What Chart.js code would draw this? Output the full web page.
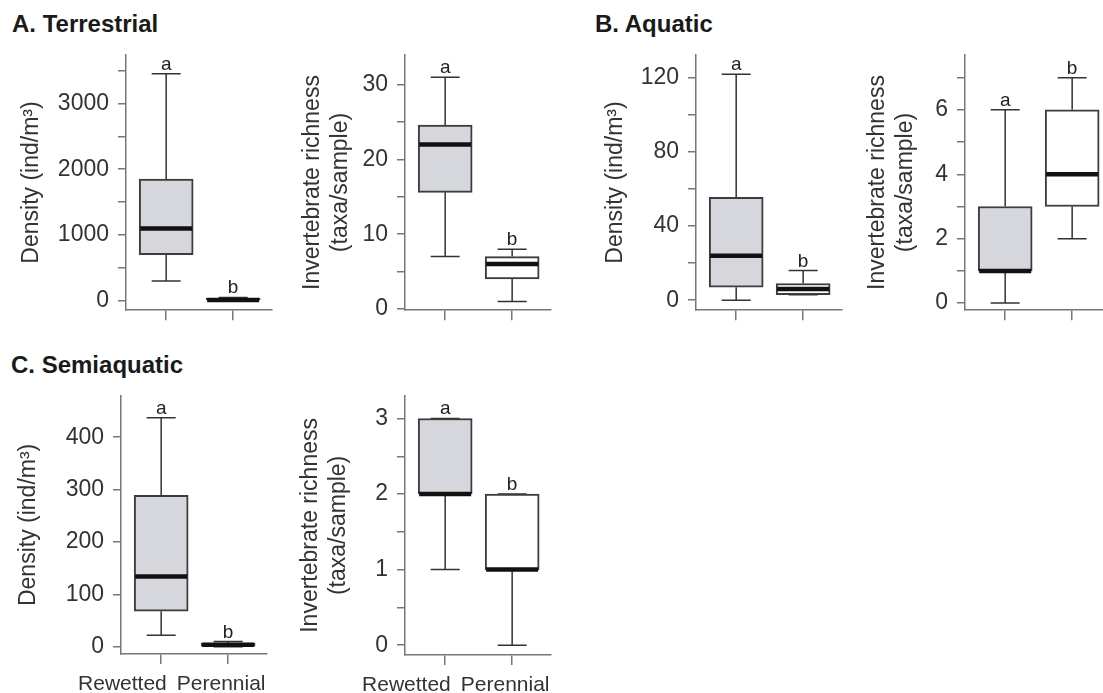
<!DOCTYPE html>
<html><head><meta charset="utf-8">
<script src="https://cdn.jsdelivr.net/npm/chart.js@4/dist/chart.umd.min.js"></script>
<style>
html,body{margin:0;padding:0;background:#fff;overflow:hidden;width:1103px;height:693px;}
#wrap{position:relative;width:1103px;height:693px;overflow:hidden;background:#fff;}
#wrap canvas{position:absolute;}
.ptitle{position:absolute;font-family:"Liberation Sans",Arial,sans-serif;font-weight:bold;font-size:24px;line-height:24px;color:#1a1a1a;white-space:nowrap;}
</style></head><body><div id="wrap">
<div class="ptitle" style="left:12px;top:12px">A. Terrestrial</div>
<div class="ptitle" style="left:595px;top:12px">B. Aquatic</div>
<div class="ptitle" style="left:11px;top:353px">C. Semiaquatic</div>
</div>
<script>
// ---------- data ----------
const categories = ['Rewetted', 'Perennial'];
const groupLetters = ['a', 'b'];
// five-number summaries: [min, q1, median, q3, max]
const terrDensityRewetted   = [300, 700, 1100, 1850, 3450];
const terrDensityPerennial  = [0, 0, 10, 35, 50];
const terrRichnessRewetted  = [7, 15.6, 22, 24.6, 31];
const terrRichnessPerennial = [1, 4, 6, 7, 8];
const aquaDensityRewetted   = [0, 7, 24, 55.5, 122];
const aquaDensityPerennial  = [3, 3, 6, 9, 16];
const aquaRichnessRewetted  = [0, 1, 1, 3, 6];
const aquaRichnessPerennial = [2, 3, 4, 6, 7];
const semiDensityRewetted   = [22, 68, 134, 289, 437];
const semiDensityPerennial  = [0, 1, 4, 7, 10];
const semiRichnessRewetted  = [1, 2, 2, 3, 3];
const semiRichnessPerennial = [0, 1, 1, 2, 2];

const densityTitle  = 'Density (ind/m³)';
const richnessTitle = ['Invertebrate richness', '(taxa/sample)'];

const terrDensityTicks      = [0, 500, 1000, 1500, 2000, 2500, 3000, 3500];
const terrDensityTickLabels = ['0', '', '1000', '', '2000', '', '3000', ''];
const terrRichnessTicks      = [0, 5, 10, 15, 20, 25, 30];
const terrRichnessTickLabels = ['0', '', '10', '', '20', '', '30'];
const aquaDensityTicks      = [0, 20, 40, 60, 80, 100, 120];
const aquaDensityTickLabels = ['0', '', '40', '', '80', '', '120'];
const aquaRichnessTicks      = [0, 1, 2, 3, 4, 5, 6, 7];
const aquaRichnessTickLabels = ['0', '', '2', '', '4', '', '6', ''];
const semiDensityTicks      = [0, 100, 200, 300, 400];
const semiDensityTickLabels = ['0', '100', '200', '300', '400'];
const semiRichnessTicks      = [0, 0.5, 1, 1.5, 2, 2.5, 3];
const semiRichnessTickLabels = ['0', '', '1', '', '2', '', '3'];

// ---------- layout / style ----------
const FONT = '"Liberation Sans", Arial, sans-serif';
Chart.defaults.font.family = FONT;
const boxFills = ['#d6d7dc', '#ffffff'];
const AXIS = '#777777';
const TEXT = '#333333';
const PT = 20, PR = 20;
const PLOT_W = 146;

const panels = [
  {stats:[terrDensityRewetted, terrDensityPerennial], ticks:terrDensityTicks, labels:terrDensityTickLabels, title:densityTitle,
   ymin:-144, ymax:3740, axisX:126, top:52, bottom:313, yw:108, xh:20, showX:false},
  {stats:[terrRichnessRewetted, terrRichnessPerennial], ticks:terrRichnessTicks, labels:terrRichnessTickLabels, title:richnessTitle,
   ymin:-0.17, ymax:34.0, axisX:405, top:52, bottom:313, yw:106, xh:20, showX:false},
  {stats:[aquaDensityRewetted, aquaDensityPerennial], ticks:aquaDensityTicks, labels:aquaDensityTickLabels, title:densityTitle,
   ymin:-5.4, ymax:132.5, axisX:696, top:52, bottom:313, yw:94, xh:20, showX:false},
  {stats:[aquaRichnessRewetted, aquaRichnessPerennial], ticks:aquaRichnessTicks, labels:aquaRichnessTickLabels, title:richnessTitle,
   ymin:-0.22, ymax:7.71, axisX:965, top:52, bottom:313, yw:101, xh:20, showX:false},
  {stats:[semiDensityRewetted, semiDensityPerennial], ticks:semiDensityTicks, labels:semiDensityTickLabels, title:densityTitle,
   ymin:-13.8, ymax:479, axisX:121, top:393, bottom:654, yw:106, xh:39, showX:true},
  {stats:[semiRichnessRewetted, semiRichnessPerennial], ticks:semiRichnessTicks, labels:semiRichnessTickLabels, title:richnessTitle,
   ymin:-0.13, ymax:3.30, axisX:405, top:393, bottom:655, yw:108, xh:39, showX:true}
];

function makeBoxPlugin(p) {
  return {
    id: 'boxStats',
    beforeDatasetsDraw(chart) {
      const ctx = chart.ctx, xs = chart.scales.x, ys = chart.scales.y;
      ctx.save();
      ctx.strokeStyle = '#333333';
      ctx.lineWidth = 1.5;
      const capW = 29;
      p.stats.forEach((s, i) => {
        const cx = xs.getPixelForValue(i + 1);
        const yMin = ys.getPixelForValue(s[0]), yQ1 = ys.getPixelForValue(s[1]);
        const yQ3 = ys.getPixelForValue(s[3]), yMax = ys.getPixelForValue(s[4]);
        ctx.beginPath();
        ctx.moveTo(cx, yQ1); ctx.lineTo(cx, yMin);
        ctx.moveTo(cx, yQ3); ctx.lineTo(cx, yMax);
        ctx.moveTo(cx - capW / 2, yMin); ctx.lineTo(cx + capW / 2, yMin);
        ctx.moveTo(cx - capW / 2, yMax); ctx.lineTo(cx + capW / 2, yMax);
        ctx.stroke();
      });
      ctx.restore();
    },
    afterDatasetsDraw(chart) {
      const ctx = chart.ctx, xs = chart.scales.x, ys = chart.scales.y;
      const meta = chart.getDatasetMeta(0);
      ctx.save();
      p.stats.forEach((s, i) => {
        const cx = xs.getPixelForValue(i + 1);
        const w = meta.data[i].width;
        const yMed = ys.getPixelForValue(s[2]);
        ctx.strokeStyle = '#111111';
        ctx.lineWidth = 4.5;
        ctx.beginPath();
        ctx.moveTo(cx - w / 2 + 1, yMed); ctx.lineTo(cx + w / 2 - 1, yMed);
        ctx.stroke();
        const yMax = ys.getPixelForValue(s[4]);
        ctx.fillStyle = '#222222';
        ctx.font = '19px ' + FONT;
        ctx.textAlign = 'center';
        ctx.textBaseline = 'alphabetic';
        ctx.fillText(groupLetters[i], cx, yMax - 4);
      });
      ctx.restore();
    },
    afterDraw(chart) {
      if (!p.showX) return;
      // category names set as one line, flush with the right end of the x axis
      const ctx = chart.ctx, area = chart.chartArea;
      ctx.save();
      ctx.font = '21px ' + FONT;
      ctx.fillStyle = TEXT;
      ctx.textAlign = 'right';
      ctx.textBaseline = 'alphabetic';
      const y = area.bottom + 36;
      let xr = area.right - 1.5;
      for (let i = categories.length - 1; i >= 0; i--) {
        ctx.fillText(categories[i], xr, y);
        xr -= ctx.measureText(categories[i]).width + 10;
      }
      ctx.restore();
    }
  };
}

const wrap = document.getElementById('wrap');
panels.forEach(p => {
  const canvas = document.createElement('canvas');
  const left = p.axisX - p.yw;
  const top = p.top - PT;
  const w = p.yw + PLOT_W + PR;
  const h = PT + (p.bottom - p.top) + p.xh;
  canvas.width = w; canvas.height = h;
  canvas.style.left = left + 'px'; canvas.style.top = top + 'px';
  canvas.style.width = w + 'px'; canvas.style.height = h + 'px';
  wrap.appendChild(canvas);
  new Chart(canvas, {
    type: 'bar',
    data: {
      datasets: [{
        data: p.stats.map((s, i) => ({x: i + 1, y: [s[1], s[3]]})),
        backgroundColor: boxFills,
        borderColor: '#3c3c3c',
        borderWidth: 2,
        borderSkipped: false,
        barThickness: 54
      }]
    },
    options: {
      responsive: false,
      animation: false,
      devicePixelRatio: 1,
      layout: {padding: {left: 0, top: PT, right: PR, bottom: 0}},
      plugins: {legend: {display: false}, tooltip: {enabled: false}},
      scales: {
        x: {
          type: 'linear', min: 0.4, max: 2.58, offset: false,
          grid: {display: true, drawOnChartArea: false, drawTicks: true, tickLength: 10, color: AXIS, lineWidth: 1.5, offset: false},
          border: {display: true, color: AXIS, width: 1.5},
          ticks: {display: false, autoSkip: false, maxRotation: 0,
                  callback: (v) => categories[Math.round(v) - 1] || ''},
          afterBuildTicks: (ax) => { ax.ticks = categories.map((c, i) => ({value: i + 1})); },
          afterFit: (ax) => { ax.height = p.xh; }
        },
        y: {
          min: p.ymin, max: p.ymax,
          grid: {display: true, drawOnChartArea: false, drawTicks: true, tickLength: 8, color: AXIS, lineWidth: 1.5},
          border: {display: true, color: AXIS, width: 1.5},
          ticks: {font: {size: 23}, color: TEXT, padding: 9, autoSkip: false,
                  callback: (v, i) => p.labels[i]},
          afterBuildTicks: (ax) => { ax.ticks = p.ticks.map(v => ({value: v})); },
          afterFit: (ax) => { ax.width = p.yw; },
          title: {display: true, text: p.title, font: {size: 23}, color: TEXT, padding: 0}
        }
      }
    },
    plugins: [makeBoxPlugin(p)]
  });
});
</script>
</body></html>
